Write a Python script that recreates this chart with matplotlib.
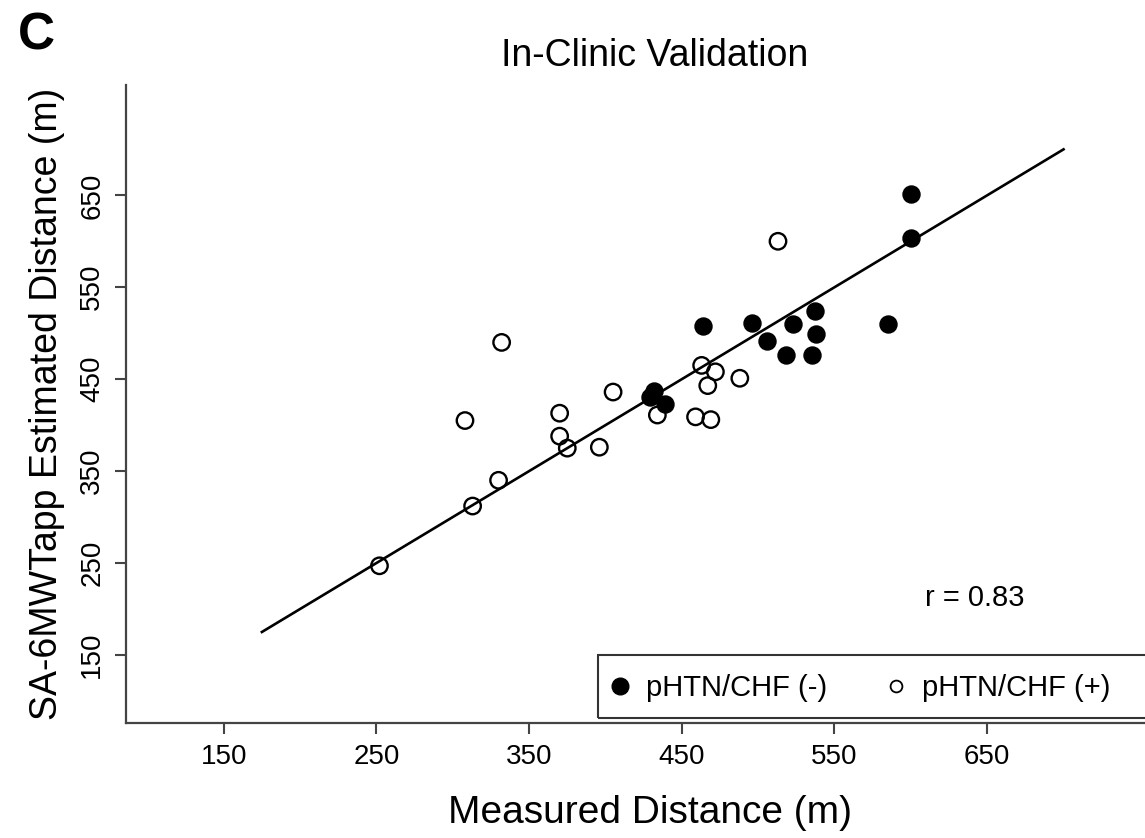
import matplotlib.pyplot as plt
from matplotlib.lines import Line2D
from matplotlib.patches import Rectangle

plt.rcParams['font.family'] = ['Liberation Sans', 'DejaVu Sans']

# pHTN/CHF (-) : filled circles
neg_measured = [600, 600, 464, 496, 506, 523, 537, 538, 518, 535, 585, 432, 439, 429]
neg_estimated = [651, 604, 508, 511, 492, 510, 524, 499, 476, 476, 510, 437, 423, 431]

# pHTN/CHF (+) : open circles
pos_measured = [332, 308, 370, 370, 375, 405, 396, 330, 313, 252,
                434, 459, 469, 463, 472, 467, 488, 513]
pos_estimated = [490, 405, 413, 388, 375, 436, 376, 340, 312, 247,
                 411, 409, 406, 465, 458, 443, 451, 600]

# line of identity drawn in the figure
fit_x = [175, 700]
fit_y = [175, 700]

ticks = [150, 250, 350, 450, 550, 650]
labels = ['pHTN/CHF (-)', 'pHTN/CHF (+)']
r_text = 'r = 0.83'

W, H = 1145, 838
fig = plt.figure(figsize=(W / 100, H / 100), dpi=100)

# plot region runs off the right edge, like the cropped original
ax = fig.add_axes([126 / W, 1 - 723 / H, (1175 - 126) / W, (723 - 85) / H])
ax.set_xlim(86, 773)
ax.set_ylim(76, 770)

ax.plot(fit_x, fit_y, color='black', lw=1.9, zorder=2)
ax.scatter(neg_measured, neg_estimated, s=150, color='black', zorder=3)
ax.scatter(pos_measured, pos_estimated, s=140, facecolors='none',
           edgecolors='black', linewidths=1.7, zorder=4)

for side in ['top', 'right']:
    ax.spines[side].set_visible(False)
for side in ['left', 'bottom']:
    ax.spines[side].set_color('#444444')
    ax.spines[side].set_linewidth(1.6)

ax.set_xticks(ticks)
ax.set_yticks(ticks)
ax.tick_params(direction='out', length=8, width=1.5, color='#444444',
               labelsize=20, pad=7)
for lab in ax.get_yticklabels():
    lab.set_rotation(90)
    lab.set_va('center')

ax.set_xlabel('Measured Distance (m)', fontsize=28, labelpad=18)
ax.set_ylabel('SA-6MWTapp Estimated Distance (m)', fontsize=27, labelpad=10)

ax.text(642, 212, r_text, fontsize=21, ha='center', va='center')

fig.text(655 / W, 1 - 66 / H, 'In-Clinic Validation', fontsize=27,
         ha='center', va='baseline')
fig.text(18 / W, 1 - 50 / H, 'C', fontsize=37, fontweight='bold',
         ha='left', va='baseline')

# legend box, cut off by the right edge
fig.patches.append(Rectangle((598 / W, 1 - 718 / H), (1160 - 598) / W, 63 / H,
                             transform=fig.transFigure, fill=False,
                             edgecolor='#333333', lw=1.5))
handles = [
    Line2D([], [], marker='o', ls='none', color='black', markersize=12),
    Line2D([], [], marker='o', ls='none', markerfacecolor='none',
           markeredgecolor='black', markeredgewidth=1.3, markersize=8.5),
]
fig.legend(handles, labels, loc='center left', ncol=2, frameon=False,
           bbox_to_anchor=(598 / W, 1 - 688 / H), fontsize=21,
           handlelength=0.8, handletextpad=0.5, columnspacing=1.95,
           borderpad=0.35, borderaxespad=0)

fig.savefig('out.png', dpi=100)
